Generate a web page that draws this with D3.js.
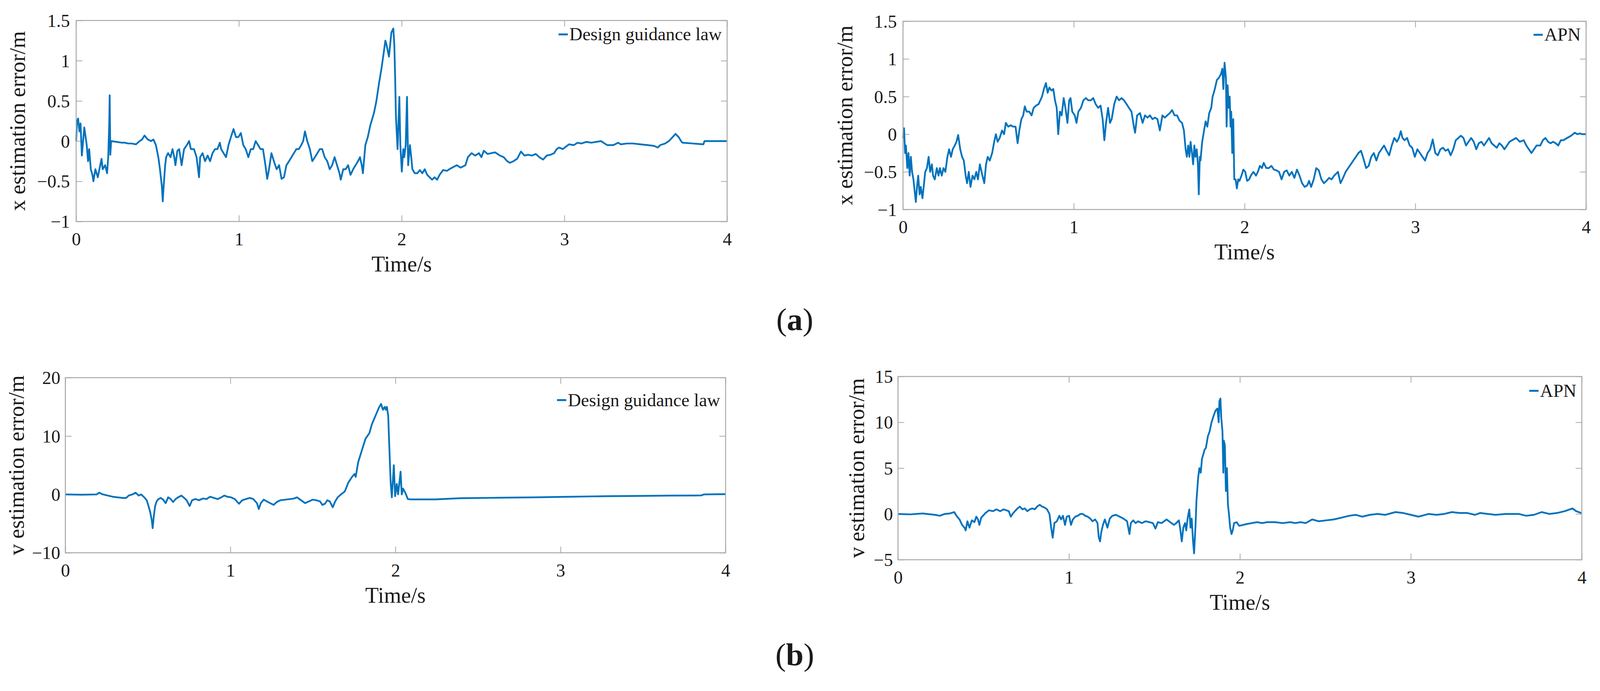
<!DOCTYPE html>
<html lang="en">
<head>
<meta charset="UTF-8">
<title>Estimation error</title>
<script src="https://d3js.org/d3.v7.min.js"></script>
<style>
  html, body { margin: 0; padding: 0; background: #fff; overflow: hidden; }
  svg { display: block; width: 100%; height: auto; }
  svg text { font-family: "Liberation Serif", "Times New Roman", serif; fill: #1a1a1a; }
  .frame { fill: none; stroke: #a8a8a8; stroke-width: 2.5px; }
  .tick line { stroke: #a8a8a8; stroke-width: 2px; }
  .curve { fill: none; stroke: #0072bd; stroke-width: 4.5px; stroke-linejoin: round; }
  .key { stroke: #0072bd; stroke-width: 5px; }
</style>
</head>
<body>
<svg id="fig" viewBox="0 0 4139 1769" preserveAspectRatio="xMinYMin meet"></svg>
<script>
  // ---- data: [time s, error] ----
  const timeTicks = [0, 1, 2, 3, 4];
  const xErrTicks = [-1, -0.5, 0, 0.5, 1, 1.5];
  const vDesignTicks = [-10, 0, 10, 20];
  const vApnTicks = [-5, 0, 5, 10, 15];
  const legendNames = ['Design guidance law', 'APN', 'Design guidance law', 'APN'];
  const yLabels = ['x estimation error/m', 'x estimation error/m', 'v estimation error/m', 'v estimation error/m'];
  const captions = ['a', 'b'];

  const xDesign = [
    [0,0],[0.005,0.25],[0.012,0.28],[0.02,0.12],[0.027,0.22],[0.035,-0.18],[0.05,0.17],[0.065,-0.05],
    [0.073,-0.25],[0.08,-0.1],[0.09,-0.35],[0.1,-0.42],[0.106,-0.5],[0.118,-0.35],[0.133,-0.45],
    [0.148,-0.3],[0.156,-0.22],[0.163,-0.35],[0.178,-0.3],[0.19,-0.4],[0.197,-0.2],[0.203,0.2],
    [0.206,0.57],[0.21,-0.17],[0.215,0],[0.25,-0.01],[0.28,-0.02],[0.3,-0.02],[0.32,-0.03],[0.34,-0.03],
    [0.368,-0.04],[0.39,0],[0.405,0.02],[0.42,0.07],[0.44,0.02],[0.46,0],[0.475,0.02],[0.49,-0.05],
    [0.505,-0.2],[0.515,-0.35],[0.527,-0.57],[0.532,-0.75],[0.538,-0.55],[0.547,-0.3],[0.553,-0.2],
    [0.565,-0.15],[0.58,-0.2],[0.592,-0.1],[0.603,-0.2],[0.61,-0.3],[0.622,-0.12],[0.633,-0.1],
    [0.648,-0.3],[0.663,-0.1],[0.68,-0.05],[0.694,0],[0.705,-0.1],[0.724,-0.1],[0.74,-0.2],[0.755,-0.45],
    [0.762,-0.2],[0.777,-0.15],[0.792,-0.25],[0.808,-0.18],[0.823,-0.25],[0.838,-0.15],[0.853,-0.1],
    [0.868,-0.1],[0.883,-0.02],[0.891,-0.1],[0.906,-0.15],[0.921,-0.2],[0.936,-0.05],[0.951,0.05],
    [0.967,0.15],[0.982,0.05],[0.997,0.05],[1.012,0.1],[1.027,-0.05],[1.042,-0.1],[1.058,-0.2],
    [1.073,-0.1],[1.088,-0.1],[1.103,0],[1.118,-0.05],[1.133,-0.1],[1.148,-0.1],[1.163,-0.3],
    [1.174,-0.47],[1.185,-0.35],[1.2,-0.15],[1.215,-0.25],[1.232,-0.35],[1.247,-0.3],[1.262,-0.47],
    [1.277,-0.45],[1.292,-0.3],[1.308,-0.25],[1.323,-0.2],[1.338,-0.15],[1.353,-0.1],[1.368,-0.1],
    [1.383,-0.05],[1.395,0],[1.406,0.12],[1.42,0],[1.436,-0.1],[1.451,-0.25],[1.467,-0.2],
    [1.482,-0.15],[1.497,-0.1],[1.512,-0.1],[1.527,-0.2],[1.543,-0.25],[1.558,-0.35],[1.573,-0.3],
    [1.588,-0.2],[1.603,-0.3],[1.618,-0.4],[1.626,-0.48],[1.641,-0.35],[1.656,-0.35],[1.671,-0.3],
    [1.686,-0.42],[1.702,-0.35],[1.717,-0.3],[1.732,-0.25],[1.744,-0.2],[1.755,-0.3],[1.762,-0.4],
    [1.777,-0.05],[1.792,0.05],[1.808,0.2],[1.83,0.35],[1.845,0.5],[1.861,0.72],[1.876,0.9],
    [1.89,1.1],[1.9,1.25],[1.907,1.2],[1.922,1.05],[1.937,1.35],[1.949,1.4],[1.955,1.2],[1.96,0.8],
    [1.965,0.3],[1.975,-0.1],[1.986,0.55],[1.992,-0.05],[2.001,-0.38],[2.01,-0.1],[2.016,-0.2],
    [2.025,-0.05],[2.033,0.55],[2.04,-0.3],[2.051,-0.05],[2.059,-0.2],[2.066,-0.35],[2.081,-0.4],
    [2.096,-0.4],[2.112,-0.36],[2.127,-0.4],[2.142,-0.35],[2.157,-0.42],[2.187,-0.48],[2.202,-0.45],
    [2.218,-0.48],[2.233,-0.42],[2.255,-0.36],[2.278,-0.37],[2.301,-0.34],[2.339,-0.3],[2.362,-0.33],
    [2.392,-0.3],[2.407,-0.2],[2.43,-0.15],[2.452,-0.18],[2.475,-0.15],[2.49,-0.2],[2.505,-0.12],
    [2.528,-0.16],[2.551,-0.15],[2.574,-0.14],[2.604,-0.18],[2.627,-0.2],[2.649,-0.25],[2.665,-0.27],
    [2.687,-0.25],[2.71,-0.22],[2.733,-0.13],[2.755,-0.18],[2.778,-0.17],[2.801,-0.18],[2.824,-0.16],
    [2.846,-0.2],[2.869,-0.23],[2.892,-0.18],[2.915,-0.17],[2.937,-0.15],[2.952,-0.1],[2.968,-0.08],
    [2.99,-0.1],[3.028,-0.04],[3.058,-0.05],[3.081,-0.02],[3.104,-0.03],[3.134,-0.01],[3.165,-0.02],
    [3.195,-0.01],[3.225,0],[3.24,-0.02],[3.263,-0.05],[3.301,-0.05],[3.331,-0.02],[3.346,-0.04],
    [3.384,-0.03],[3.422,-0.03],[3.467,-0.04],[3.513,-0.05],[3.551,-0.06],[3.574,-0.08],[3.589,-0.05],
    [3.619,-0.03],[3.642,0],[3.665,0.05],[3.683,0.09],[3.702,0.05],[3.717,0],[3.725,-0.02],
    [3.854,-0.04],[3.861,0],[4,0]
  ];

  const xAPN = [
    [0,-0.05],[0.006,0.08],[0.012,-0.25],[0.017,-0.15],[0.025,-0.45],[0.032,-0.25],[0.039,-0.55],
    [0.046,-0.3],[0.053,-0.5],[0.061,-0.6],[0.068,-0.75],[0.075,-0.9],[0.082,-0.7],[0.089,-0.55],
    [0.097,-0.8],[0.104,-0.7],[0.114,-0.85],[0.121,-0.7],[0.13,-0.5],[0.14,-0.45],[0.15,-0.3],
    [0.159,-0.5],[0.169,-0.4],[0.176,-0.55],[0.186,-0.6],[0.198,-0.45],[0.208,-0.55],[0.216,-0.45],
    [0.227,-0.55],[0.237,-0.45],[0.248,-0.5],[0.26,-0.3],[0.27,-0.2],[0.281,-0.3],[0.291,-0.2],
    [0.303,-0.15],[0.313,-0.1],[0.323,-0.01],[0.335,-0.2],[0.346,-0.3],[0.356,-0.35],[0.367,-0.55],
    [0.375,-0.65],[0.385,-0.5],[0.395,-0.7],[0.407,-0.55],[0.418,-0.6],[0.429,-0.5],[0.439,-0.6],
    [0.45,-0.4],[0.465,-0.55],[0.476,-0.65],[0.486,-0.4],[0.496,-0.3],[0.508,-0.35],[0.522,-0.25],
    [0.534,-0.1],[0.544,0],[0.554,-0.1],[0.566,-0.05],[0.58,0.05],[0.592,0],[0.602,0.15],[0.616,0.1],
    [0.631,0.12],[0.645,0.1],[0.659,0.1],[0.671,-0.12],[0.681,0.05],[0.693,0.2],[0.704,0.25],
    [0.713,0.37],[0.724,0.3],[0.739,0.3],[0.753,0.25],[0.765,0.35],[0.779,0.38],[0.794,0.4],
    [0.804,0.45],[0.814,0.5],[0.825,0.6],[0.837,0.68],[0.847,0.55],[0.857,0.62],[0.869,0.58],
    [0.88,0.6],[0.89,0.45],[0.9,0.35],[0.909,0],[0.919,0.3],[0.929,0.25],[0.941,0.48],[0.951,0.35],
    [0.963,0.15],[0.973,0.45],[0.981,0.48],[0.991,0.3],[1.006,0.25],[1.016,0.15],[1.027,0.3],
    [1.042,0.35],[1.056,0.45],[1.071,0.48],[1.085,0.45],[1.1,0.45],[1.114,0.48],[1.128,0.4],
    [1.143,0.35],[1.157,0.38],[1.169,0.2],[1.179,-0.08],[1.189,0.15],[1.201,0.35],[1.212,0.15],
    [1.222,0.2],[1.237,0.4],[1.251,0.5],[1.265,0.45],[1.28,0.48],[1.294,0.45],[1.309,0.4],
    [1.323,0.35],[1.338,0.3],[1.352,0.1],[1.359,0.02],[1.371,0.25],[1.388,0.28],[1.403,0.15],
    [1.417,0.25],[1.432,0.22],[1.446,0.25],[1.461,0.2],[1.475,0.22],[1.49,0.2],[1.504,0.05],
    [1.519,0.25],[1.533,0.22],[1.547,0.25],[1.562,0.28],[1.576,0.32],[1.59,0.25],[1.605,0.25],
    [1.619,0.18],[1.634,0.15],[1.645,0.05],[1.655,-0.2],[1.662,-0.3],[1.67,-0.15],[1.677,-0.3],
    [1.684,-0.1],[1.692,-0.25],[1.699,-0.4],[1.706,-0.15],[1.713,-0.3],[1.72,-0.2],[1.727,-0.4],
    [1.732,-0.8],[1.738,-0.3],[1.742,-0.35],[1.752,-0.1],[1.763,0.05],[1.772,0.17],[1.782,0.1],
    [1.793,0.28],[1.805,0.35],[1.813,0.5],[1.82,0.55],[1.828,0.62],[1.838,0.72],[1.85,0.75],
    [1.862,0.8],[1.87,0.87],[1.876,0.6],[1.883,0.95],[1.891,0.75],[1.895,0.1],[1.901,0.65],
    [1.907,0.35],[1.913,0.5],[1.918,0.1],[1.922,0.3],[1.928,-0.25],[1.934,0.2],[1.94,-0.6],
    [1.948,-0.6],[1.955,-0.72],[1.963,-0.6],[1.97,-0.62],[1.982,-0.55],[1.993,-0.47],[2.004,-0.5],
    [2.015,-0.62],[2.027,-0.6],[2.037,-0.55],[2.052,-0.5],[2.067,-0.55],[2.078,-0.5],[2.09,-0.42],
    [2.102,-0.45],[2.112,-0.38],[2.127,-0.45],[2.142,-0.45],[2.157,-0.42],[2.172,-0.47],[2.187,-0.48],
    [2.202,-0.5],[2.217,-0.6],[2.232,-0.5],[2.247,-0.48],[2.262,-0.55],[2.277,-0.5],[2.292,-0.58],
    [2.307,-0.47],[2.322,-0.55],[2.337,-0.65],[2.352,-0.7],[2.367,-0.68],[2.378,-0.62],[2.39,-0.7],
    [2.405,-0.6],[2.42,-0.45],[2.435,-0.48],[2.45,-0.6],[2.465,-0.65],[2.48,-0.62],[2.495,-0.58],
    [2.51,-0.6],[2.525,-0.55],[2.547,-0.5],[2.562,-0.65],[2.577,-0.58],[2.592,-0.5],[2.607,-0.45],
    [2.622,-0.4],[2.637,-0.35],[2.652,-0.3],[2.667,-0.25],[2.682,-0.22],[2.697,-0.33],[2.712,-0.45],
    [2.727,-0.42],[2.742,-0.3],[2.757,-0.25],[2.772,-0.35],[2.787,-0.25],[2.802,-0.2],[2.817,-0.15],
    [2.832,-0.22],[2.847,-0.28],[2.862,-0.15],[2.877,-0.05],[2.892,-0.1],[2.904,-0.05],[2.915,0.04],
    [2.925,-0.05],[2.937,-0.08],[2.952,-0.05],[2.967,-0.15],[2.982,-0.18],[2.997,-0.3],[3.012,-0.2],
    [3.027,-0.25],[3.042,-0.3],[3.057,-0.35],[3.072,-0.25],[3.087,-0.2],[3.102,-0.07],[3.117,-0.25],
    [3.132,-0.28],[3.147,-0.2],[3.162,-0.18],[3.177,-0.22],[3.192,-0.2],[3.207,-0.28],[3.222,-0.2],
    [3.237,-0.08],[3.252,-0.05],[3.267,-0.02],[3.282,-0.05],[3.297,-0.15],[3.312,-0.1],[3.327,-0.05],
    [3.342,-0.1],[3.357,-0.2],[3.372,-0.12],[3.387,-0.1],[3.402,-0.15],[3.417,-0.1],[3.432,-0.05],
    [3.447,-0.12],[3.462,-0.15],[3.477,-0.18],[3.492,-0.12],[3.507,-0.15],[3.522,-0.2],[3.537,-0.15],
    [3.552,-0.1],[3.567,-0.08],[3.59,-0.05],[3.612,-0.1],[3.635,-0.08],[3.65,-0.15],[3.665,-0.2],
    [3.68,-0.25],[3.695,-0.2],[3.71,-0.15],[3.732,-0.15],[3.747,-0.08],[3.762,-0.05],[3.777,-0.1],
    [3.792,-0.12],[3.807,-0.1],[3.822,-0.12],[3.837,-0.15],[3.852,-0.08],[3.867,-0.08],[3.889,-0.05],
    [3.912,-0.02],[3.934,0.02],[3.949,0],[3.964,0.01],[3.979,0],[4,0]
  ];

  const vDesign = [
    [0,0],[0.1,-0.05],[0.19,0],[0.205,0.3],[0.227,0],[0.257,-0.2],[0.287,-0.4],[0.317,-0.5],
    [0.347,-0.6],[0.369,-0.6],[0.384,-0.2],[0.407,0],[0.426,0.3],[0.444,-0.2],[0.459,0],[0.478,-0.5],
    [0.493,-1],[0.504,-2],[0.514,-3],[0.524,-4.5],[0.529,-5.8],[0.535,-4],[0.544,-2],[0.553,-1.2],
    [0.564,-0.8],[0.578,-0.6],[0.593,-0.9],[0.608,-1.5],[0.623,-0.5],[0.638,-0.8],[0.653,-1.3],
    [0.668,-0.8],[0.683,-0.5],[0.703,-0.2],[0.72,-0.6],[0.735,-1],[0.753,-2],[0.768,-1],[0.788,-0.8],
    [0.81,-1],[0.833,-0.7],[0.855,-0.8],[0.877,-0.4],[0.9,-0.6],[0.922,-0.8],[0.945,-0.5],[0.963,-0.2],
    [0.982,-0.4],[1.004,-0.5],[1.027,-0.8],[1.052,-1.6],[1.072,-1],[1.094,-0.8],[1.117,-0.6],
    [1.139,-0.8],[1.161,-1.5],[1.172,-2.5],[1.184,-1.5],[1.202,-0.9],[1.221,-1.2],[1.241,-1.5],
    [1.262,-1.8],[1.281,-1.3],[1.303,-1],[1.333,-0.9],[1.363,-0.8],[1.386,-0.7],[1.404,-0.5],
    [1.423,-0.9],[1.453,-1.5],[1.475,-1.2],[1.498,-0.9],[1.52,-1],[1.543,-1.2],[1.557,-1.8],
    [1.573,-1.6],[1.587,-1],[1.602,-1.2],[1.62,-2.2],[1.635,-1.2],[1.65,-0.5],[1.67,0],[1.693,0.5],
    [1.714,2],[1.737,3],[1.752,3.5],[1.759,3],[1.774,5.5],[1.796,7.5],[1.818,9.5],[1.842,10.5],
    [1.857,12],[1.872,13],[1.887,14],[1.902,15],[1.913,15.5],[1.924,14.5],[1.935,15],[1.941,14.5],
    [1.948,15],[1.956,13.5],[1.963,8],[1.971,2],[1.978,-0.5],[1.99,5],[1.998,-0.3],[2.008,1.8],
    [2.016,0],[2.031,3.9],[2.038,0],[2.046,1],[2.061,0.2],[2.075,-0.8],[2.09,-0.86],[2.24,-0.86],
    [2.389,-0.65],[2.6,-0.58],[2.837,-0.5],[3.05,-0.4],[3.285,-0.3],[3.5,-0.25],[3.659,-0.2],
    [3.853,-0.18],[3.868,0],[4,0.05]
  ];

  const vAPN = [
    [0,0],[0.072,-0.05],[0.144,0.05],[0.216,-0.1],[0.245,-0.2],[0.274,0],[0.303,0.05],[0.329,0.2],
    [0.346,-0.3],[0.36,-0.6],[0.375,-1.2],[0.389,-1.5],[0.396,-1.8],[0.406,-0.8],[0.418,-1.5],
    [0.432,-0.7],[0.447,-0.9],[0.458,-0.3],[0.468,-0.6],[0.476,-1.2],[0.487,-0.4],[0.497,-0.2],
    [0.512,0.1],[0.533,0.4],[0.555,0.3],[0.576,0.5],[0.598,0.3],[0.617,0.5],[0.634,0.4],[0.648,0.3],
    [0.66,-0.3],[0.67,0],[0.684,0.3],[0.699,0.6],[0.713,0.8],[0.728,0.5],[0.742,0.6],[0.756,0.3],
    [0.771,0.5],[0.785,0.6],[0.8,0.5],[0.814,0.8],[0.829,1],[0.843,0.8],[0.857,0.7],[0.872,0.5],
    [0.886,0],[0.896,-1.5],[0.905,-2.6],[0.915,-1],[0.929,-0.8],[0.944,-0.2],[0.954,-0.6],
    [0.965,-0.2],[0.977,-1.2],[0.987,-0.3],[1.001,-0.2],[1.012,-1.2],[1.023,-0.6],[1.037,-0.3],
    [1.052,-0.2],[1.066,0],[1.081,0],[1.095,-0.2],[1.11,-0.3],[1.124,-0.5],[1.138,-0.8],[1.153,-0.6],
    [1.167,-1],[1.174,-2.5],[1.182,-3],[1.189,-2],[1.199,-1.2],[1.21,-0.6],[1.225,-1.5],[1.239,-0.5],
    [1.254,-0.2],[1.275,-0.1],[1.297,-0.3],[1.318,-0.5],[1.34,-0.8],[1.354,-2.2],[1.362,-1],
    [1.376,-0.7],[1.39,-1],[1.405,-0.8],[1.427,-1],[1.448,-0.8],[1.47,-0.9],[1.491,-1],[1.506,-1.6],
    [1.52,-0.9],[1.542,-1],[1.571,-0.6],[1.592,-0.9],[1.614,-1.2],[1.628,-1],[1.643,-0.7],[1.65,-1.5],
    [1.66,-3],[1.669,-1.5],[1.679,-1],[1.686,-1.8],[1.694,-0.5],[1.704,0.5],[1.711,-1.5],[1.718,-0.5],
    [1.726,-3],[1.732,-4.3],[1.741,-1],[1.746,1.5],[1.756,4],[1.763,5],[1.771,4.5],[1.778,6],
    [1.786,6.5],[1.793,7],[1.801,7.2],[1.813,8.5],[1.823,9],[1.834,10],[1.846,10.7],[1.858,11.3],
    [1.868,11.5],[1.876,10],[1.88,12.3],[1.886,12.6],[1.891,10.5],[1.898,9],[1.903,4.5],[1.906,8],
    [1.912,7.5],[1.918,2.5],[1.924,5],[1.93,1],[1.936,0],[1.943,-1.5],[1.951,-2.2],[1.958,-1.8],
    [1.966,-1],[1.981,-0.9],[1.996,-1.3],[2.018,-1.2],[2.04,-1.1],[2.07,-1],[2.1,-0.9],[2.13,-1],
    [2.16,-0.9],[2.205,-0.9],[2.25,-1],[2.295,-0.9],[2.325,-1],[2.355,-0.9],[2.385,-1],[2.423,-0.6],
    [2.46,-0.8],[2.505,-0.7],[2.55,-0.6],[2.595,-0.4],[2.64,-0.2],[2.678,-0.1],[2.715,-0.3],
    [2.76,-0.1],[2.805,0],[2.85,-0.1],[2.91,0.2],[2.955,0.1],[3,-0.1],[3.045,-0.3],[3.105,0],
    [3.15,-0.1],[3.195,0],[3.24,0.2],[3.285,0.1],[3.33,0.1],[3.375,-0.1],[3.405,0.1],[3.45,0],
    [3.495,-0.1],[3.555,0],[3.63,0],[3.675,-0.2],[3.72,-0.1],[3.765,0.2],[3.81,0],[3.855,0.1],
    [3.9,0.3],[3.945,0.6],[3.967,0.3],[3.997,0.1]
  ];

  // ---- layout of the four axes (pixels) ----
  const panels = [
    { data: xDesign, name: legendNames[0], ylab: yLabels[0], dom: [-1, 1.5], ticks: xErrTicks,
      left: 197, right: 1881, top: 53, bottom: 573, keyDy: 36, labDx: 149, gap: 16 },
    { data: xAPN, name: legendNames[1], ylab: yLabels[1], dom: [-1, 1.5], ticks: xErrTicks,
      left: 2336, right: 4103, top: 55, bottom: 542, keyDy: 35, labDx: 148, gap: 16 },
    { data: vDesign, name: legendNames[2], ylab: yLabels[2], dom: [-10, 20], ticks: vDesignTicks,
      left: 169, right: 1877, top: 977, bottom: 1430, keyDy: 58, labDx: 124, gap: 13 },
    { data: vAPN, name: legendNames[3], ylab: yLabels[3], dom: [-5, 15], ticks: vApnTicks,
      left: 2323, right: 4092, top: 974, bottom: 1448, keyDy: 37, labDx: 105, gap: 13 }
  ];

  const fmt = v => (v < 0 ? '\u2212' : '') + Math.abs(v);
  const svg = d3.select('#fig');
  const TICK = 16;

  panels.forEach(p => {
    const x = d3.scaleLinear().domain([0, 4]).range([p.left, p.right]);
    const y = d3.scaleLinear().domain(p.dom).range([p.bottom, p.top]);
    const g = svg.append('g');

    // ticks on all four sides, pointing inward
    const bx = g.append('g').attr('transform', `translate(0,${p.bottom})`)
      .call(d3.axisBottom(x).tickValues(timeTicks).tickSize(-TICK).tickFormat(fmt));
    bx.selectAll('text').attr('y', 45).attr('dy', '0.35em').style('font-size', '47px');
    g.append('g').attr('transform', `translate(0,${p.top})`)
      .call(d3.axisTop(x).tickValues(timeTicks).tickSize(-TICK).tickFormat(''));
    const ly = g.append('g').attr('transform', `translate(${p.left},0)`)
      .call(d3.axisLeft(y).tickValues(p.ticks).tickSize(-TICK).tickFormat(fmt));
    ly.selectAll('text').attr('x', -p.gap).attr('dy', '0.34em').style('font-size', '47px');
    g.append('g').attr('transform', `translate(${p.right},0)`)
      .call(d3.axisRight(y).tickValues(p.ticks).tickSize(-TICK).tickFormat(''));
    g.selectAll('.domain').remove();
    g.selectAll('.tick text').attr('fill', '#1a1a1a').style('font-family', '"Liberation Serif", serif');

    // curve
    g.append('path').datum(p.data).attr('class', 'curve')
      .attr('d', d3.line().x(d => x(d[0])).y(d => y(d[1])));

    g.append('rect').attr('class', 'frame')
      .attr('x', p.left).attr('y', p.top)
      .attr('width', p.right - p.left).attr('height', p.bottom - p.top);

    // axis labels
    g.append('text').attr('x', (p.left + p.right) / 2).attr('y', p.bottom + 109)
      .attr('dy', '0.35em').attr('text-anchor', 'middle').style('font-size', '57px').text('Time/s');
    g.append('text')
      .attr('transform', `translate(${p.left - p.labDx},${(p.top + p.bottom) / 2}) rotate(-90)`)
      .attr('dy', '0.3em').attr('text-anchor', 'middle').style('font-size', '57px').text(p.ylab);

    // legend
    const ky = p.top + p.keyDy;
    const kt = g.append('text').attr('x', p.right - 14).attr('y', ky).attr('dy', '0.33em')
      .attr('text-anchor', 'end').style('font-size', '47px').text(p.name);
    const tw = kt.node().getComputedTextLength();
    const x0 = p.right - 14 - tw;
    g.append('line').attr('class', 'key')
      .attr('x1', x0 - 28).attr('x2', x0 - 4).attr('y1', ky).attr('y2', ky);
  });

  // sub-figure captions
  [854, 1721].forEach((yy, i) => {
    const t = svg.append('text').attr('x', 2056).attr('y', yy)
      .attr('text-anchor', 'middle').style('font-size', '82px');
    t.append('tspan').text('(');
    t.append('tspan').style('font-weight', 'bold').text(captions[i]);
    t.append('tspan').text(')');
  });
</script>
</body>
</html>
